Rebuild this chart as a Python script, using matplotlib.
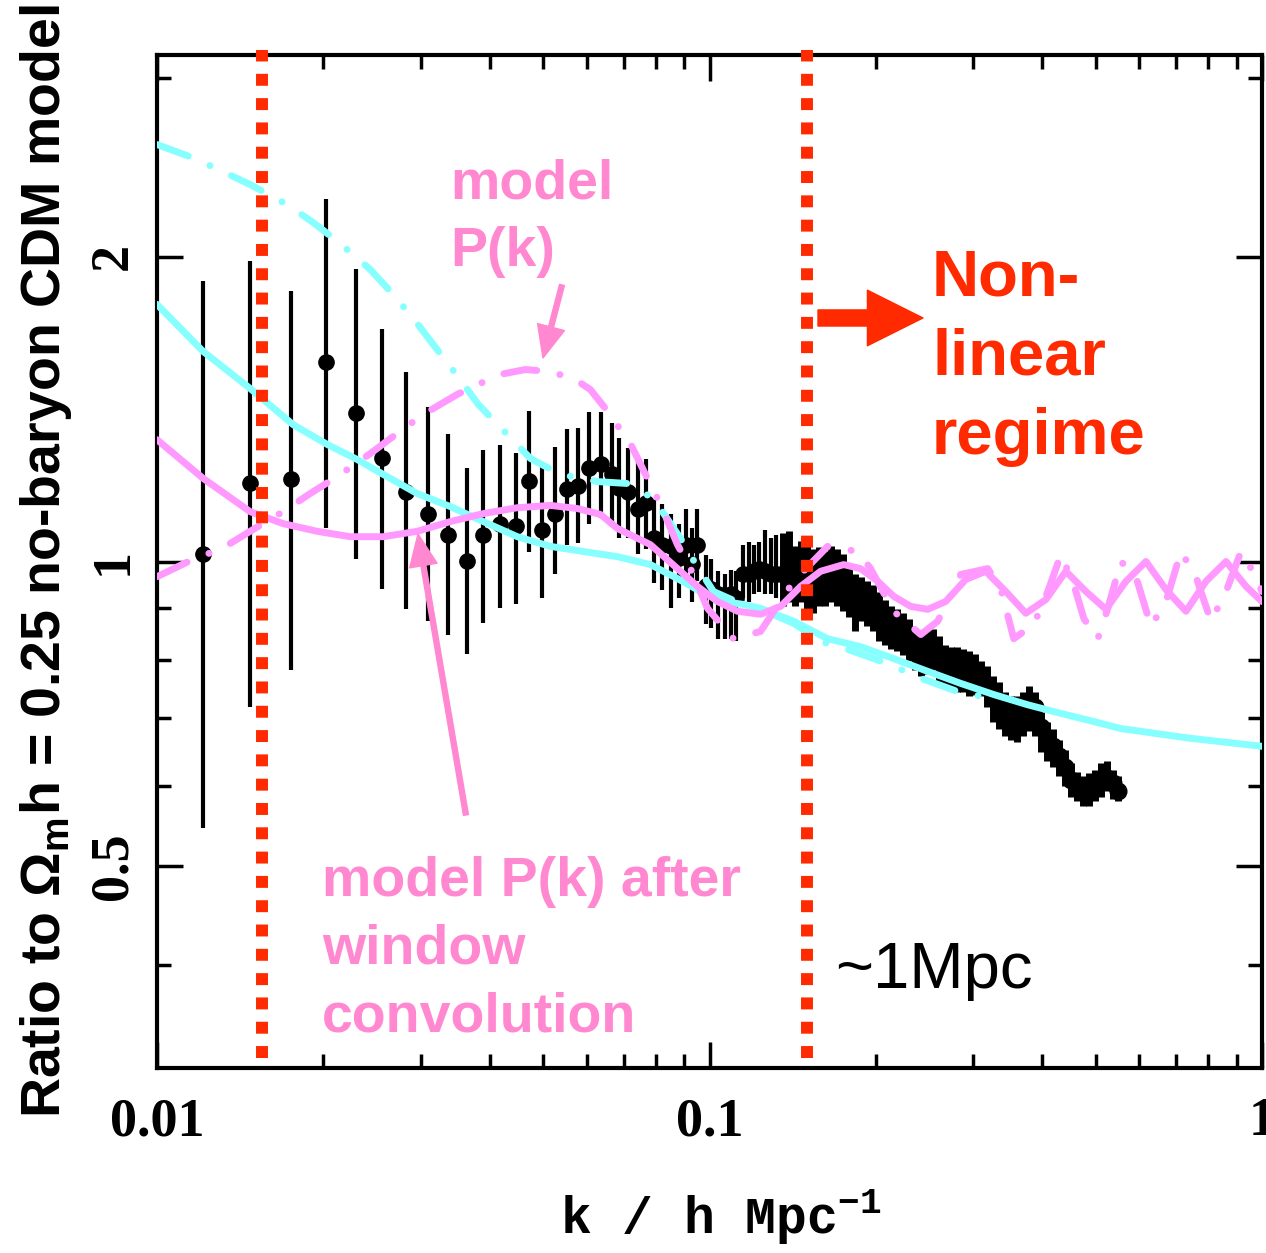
import matplotlib
matplotlib.use("Agg")
import matplotlib.pyplot as plt
from matplotlib.ticker import FixedLocator, FixedFormatter, NullFormatter

plt.rcParams['font.family'] = ['Liberation Sans', 'DejaVu Sans']
plt.rcParams['mathtext.fontset'] = 'custom'
plt.rcParams['mathtext.rm'] = 'Liberation Serif:bold'
plt.rcParams['mathtext.sf'] = 'Liberation Sans:bold'
plt.rcParams['mathtext.tt'] = 'Liberation Mono:bold'
plt.rcParams['lines.scale_dashes'] = False

RED = '#ff2a00'
PINK_LINE = '#ff99ff'
PINK_TEXT = '#ff88d0'
CYAN = '#88ffff'

# measured power spectrum ratio, sparse part (k < 0.135)
k_low = [0.01212, 0.01474, 0.01749, 0.02024, 0.02294, 0.02556, 0.02826, 0.03097, 0.03367,
         0.03644, 0.03896, 0.04182, 0.0447, 0.0472, 0.04983, 0.0526, 0.0553, 0.0579, 0.0606,
         0.0635, 0.0665, 0.0687, 0.0713, 0.0741, 0.0769, 0.0795, 0.0822, 0.0850, 0.0879,
         0.0905, 0.0928, 0.0951, 0.0984, 0.1008, 0.1038, 0.1065, 0.1092, 0.1119, 0.1148,
         0.1177, 0.1202, 0.1227, 0.1258, 0.1290, 0.1322]
ratio_low = [1.018, 1.194, 1.205, 1.572, 1.400, 1.264, 1.170, 1.115, 1.063, 1.002, 1.061, 1.090,
             1.083, 1.202, 1.075, 1.115, 1.180, 1.186, 1.238, 1.249, 1.221, 1.183, 1.172, 1.128,
             1.141, 1.054, 1.039, 1.035, 1.007, 1.039, 0.995, 1.039, 0.945, 0.940, 0.928, 0.920,
             0.928, 0.920, 0.973, 0.971, 0.978, 0.984, 0.978, 0.973, 0.971]
hi_low = [1.894, 1.982, 1.851, 2.282, 1.946, 1.698, 1.537, 1.422, 1.335, 1.238, 1.287, 1.302,
          1.281, 1.409, 1.252, 1.296, 1.350, 1.356, 1.406, 1.406, 1.371, 1.323, 1.293, 1.255,
          1.261, 1.151, 1.139, 1.113, 1.088, 1.128, 1.078, 1.128, 1.016, 1.005, 0.978, 0.973,
          0.980, 0.978, 1.039, 1.046, 1.039, 1.046, 1.075, 1.054, 1.063]
lo_low = [0.546, 0.718, 0.782, 1.078, 1.005, 0.940, 0.897, 0.873, 0.847, 0.811, 0.869, 0.899,
          0.907, 1.021, 0.920, 0.971, 1.039, 1.042, 1.090, 1.103, 1.088, 1.056, 1.054, 1.018,
          1.028, 0.953, 0.938, 0.899, 0.920, 0.962, 0.913, 0.956, 0.867, 0.859, 0.839, 0.839,
          0.839, 0.834, 0.920, 0.913, 0.928, 0.934, 0.928, 0.928, 0.920]

# dense part (k > 0.135)
k_high = [0.1356, 0.1391, 0.1426, 0.1462, 0.1499, 0.1537, 0.1576, 0.1616, 0.1657, 0.1699,
          0.1741, 0.1786, 0.1831, 0.1877, 0.1925, 0.1974, 0.2024, 0.2075, 0.2128, 0.2182,
          0.2237, 0.2294, 0.2352, 0.2412, 0.2473, 0.2535, 0.2599, 0.2665, 0.2733, 0.2802,
          0.2873, 0.2946, 0.3020, 0.3097, 0.3175, 0.3256, 0.3338, 0.3423, 0.3510, 0.3599,
          0.3690, 0.3784, 0.3880, 0.3978, 0.4079, 0.4183, 0.4288, 0.4397, 0.4508, 0.4623,
          0.4740, 0.4860, 0.4984, 0.5110, 0.5240, 0.5373, 0.5485]
ratio_high = [0.973, 0.982, 0.966, 0.978, 0.966, 0.956, 0.964, 0.960, 0.973, 0.966, 0.960, 0.934,
              0.924, 0.917, 0.913, 0.903, 0.889, 0.873, 0.863, 0.863, 0.857, 0.834, 0.819, 0.811,
              0.819, 0.819, 0.806, 0.797, 0.788, 0.788, 0.782, 0.779, 0.775, 0.765, 0.753, 0.736,
              0.724, 0.711, 0.708, 0.708, 0.714, 0.727, 0.719, 0.687, 0.667, 0.657, 0.642, 0.627,
              0.609, 0.600, 0.593, 0.596, 0.601, 0.609, 0.612, 0.604, 0.593]
hi_high = [1.066, 1.071, 1.035, 1.047, 1.035, 1.028, 1.033, 1.023, 1.035, 1.028, 1.018, 0.989,
           0.973, 0.966, 0.956, 0.949, 0.934, 0.917, 0.903, 0.897, 0.889, 0.877, 0.853, 0.849,
           0.857, 0.857, 0.844, 0.828, 0.824, 0.824, 0.819, 0.815, 0.811, 0.797, 0.788, 0.770,
           0.761, 0.744, 0.736, 0.736, 0.744, 0.753, 0.744, 0.711, 0.695, 0.683, 0.667, 0.652,
           0.632, 0.620, 0.614, 0.618, 0.623, 0.632, 0.635, 0.623, 0.614]
lo_high = [0.903, 0.913, 0.903, 0.913, 0.893, 0.889, 0.903, 0.903, 0.913, 0.903, 0.893, 0.882,
           0.853, 0.873, 0.863, 0.853, 0.834, 0.828, 0.819, 0.815, 0.809, 0.797, 0.782, 0.770,
           0.775, 0.782, 0.761, 0.756, 0.748, 0.744, 0.744, 0.736, 0.739, 0.736, 0.719, 0.695,
           0.683, 0.672, 0.667, 0.664, 0.672, 0.680, 0.672, 0.649, 0.635, 0.627, 0.614, 0.600,
           0.586, 0.580, 0.573, 0.573, 0.580, 0.586, 0.593, 0.583, 0.580]

# cyan: smooth model (solid) and wiggly model (dash-dot)
k_cyan = [0.01, 0.01212, 0.01474, 0.01763, 0.02032, 0.02303, 0.02567, 0.02958, 0.03395, 0.03896,
          0.04489, 0.05152, 0.05912, 0.06813, 0.07818, 0.0875, 0.09632, 0.1060, 0.1153, 0.1237,
          0.1420, 0.1636, 0.1877, 0.2154, 0.2483, 0.2849, 0.3270, 0.3768, 0.4325, 0.4963,
          0.5555, 0.7435, 1.0]
ratio_cyan = [1.794, 1.612, 1.482, 1.365, 1.305, 1.261, 1.219, 1.167, 1.133, 1.095, 1.058, 1.035,
              1.023, 1.011, 0.993, 0.962, 0.934, 0.913, 0.907, 0.899, 0.873, 0.839, 0.824, 0.802,
              0.779, 0.758, 0.739, 0.722, 0.708, 0.695, 0.684, 0.669, 0.657]
k_cyan_dd = [0.01, 0.01172, 0.01474, 0.0172, 0.01917, 0.02146, 0.02432, 0.02666, 0.02909, 0.03256,
             0.03539, 0.03815, 0.04306, 0.0474, 0.05372, 0.06294, 0.07103, 0.07917, 0.08862,
             0.09433, 0.1017, 0.1138, 0.1237, 0.1420, 0.1589, 0.1778, 0.2101, 0.2412, 0.2814, 0.3270]
ratio_cyan_dd = [2.580, 2.499, 2.356, 2.251, 2.161, 2.060, 1.942, 1.839, 1.738, 1.604, 1.512, 1.429,
                 1.335, 1.264, 1.219, 1.199, 1.194, 1.154, 1.054, 0.995, 0.934, 0.909, 0.897, 0.869,
                 0.834, 0.819, 0.793, 0.767, 0.744, 0.732]

# pink: model P(k) after window convolution (solid) and raw model P(k) (dash-dot)
k_pink = [0.01, 0.01212, 0.01474, 0.01691, 0.0195, 0.02237, 0.02567, 0.02958, 0.03395, 0.03896,
          0.04489, 0.05152, 0.05766, 0.06346, 0.06813, 0.07818, 0.0875, 0.0951, 0.1034, 0.1124,
          0.1237, 0.1345, 0.1462, 0.1589, 0.1749, 0.1877, 0.2016, 0.2154, 0.2313, 0.2483,
          0.2676, 0.2909, 0.3162, 0.3438, 0.3737, 0.4062, 0.4416, 0.4801, 0.5218, 0.5672,
          0.6166, 0.6702, 0.7285, 0.7919, 0.8608, 0.9355, 1.0]
ratio_pink = [1.319, 1.208, 1.120, 1.090, 1.071, 1.058, 1.058, 1.071, 1.095, 1.115, 1.130, 1.136,
              1.128, 1.113, 1.078, 1.039, 0.984, 0.945, 0.913, 0.893, 0.887, 0.903, 0.945, 0.978,
              0.993, 0.984, 0.956, 0.924, 0.903, 0.897, 0.913, 0.960, 0.978, 0.934, 0.889, 0.917,
              0.978, 0.934, 0.897, 0.956, 1.0, 0.938, 0.893, 0.956, 1.0, 0.945, 0.913]
k_pink_dd = [0.01, 0.01162, 0.01311, 0.01474, 0.01691, 0.01893, 0.02119, 0.02432, 0.02722, 0.03033,
             0.03495, 0.03847, 0.04182, 0.04642, 0.05152, 0.05718, 0.06087, 0.0648, 0.07193,
             0.07657, 0.08152, 0.0875, 0.09239, 0.09917, 0.1105, 0.1237, 0.1420, 0.1636, 0.1854,
             0.1957, 0.2154, 0.2412, 0.2588, 0.2699, 0.2849, 0.3189, 0.3367, 0.3554, 0.3864,
             0.4096, 0.4325, 0.4564, 0.4761, 0.5045, 0.5260, 0.5555, 0.5913, 0.6295, 0.6702,
             0.7134, 0.7594, 0.8085, 0.8608, 0.9162, 0.9753, 1.0]
ratio_pink_dd = [0.966, 1.005, 1.030, 1.071, 1.120, 1.167, 1.213, 1.278, 1.338, 1.397, 1.462, 1.499,
                 1.530, 1.547, 1.540, 1.512, 1.478, 1.416, 1.307, 1.219, 1.138, 1.039, 0.984, 0.899,
                 0.839, 0.853, 0.956, 1.035, 1.023, 0.984, 0.893, 0.847, 0.873, 0.913, 0.971, 0.984,
                 0.940, 0.839, 0.867, 0.934, 1.016, 0.949, 0.878, 0.839, 0.899, 1.0, 0.966, 0.863,
                 0.913, 1.023, 0.966, 0.873, 0.934, 1.023, 0.966, 0.934]

k_fit_min = 0.0155
k_nonlinear = 0.15

fig = plt.figure(figsize=(12.66, 12.53), dpi=100)
ax = fig.add_axes([157 / 1266, 1 - 1068 / 1253, 1105 / 1266, 1013 / 1253])
ax.set_xscale('log')
ax.set_yscale('log')
ax.set_xlim(0.01, 1)
ax.set_ylim(10 ** -0.5, 10 ** 0.5)

# data points: sparse bins, then the dense bins that merge into a band
err_low = [[a - b for a, b in zip(ratio_low, lo_low)], [b - a for a, b in zip(ratio_low, hi_low)]]
ax.errorbar(k_low, ratio_low, yerr=err_low, fmt='o', color='black', ms=11, elinewidth=3.0,
            capsize=0, zorder=2)
err_high = [[a - b for a, b in zip(ratio_high, lo_high)], [b - a for a, b in zip(ratio_high, hi_high)]]
ax.errorbar(k_high, ratio_high, yerr=err_high, fmt='o', color='black', ms=12, elinewidth=5.0,
            capsize=0, zorder=2)

dashdot = (0, (24, 17, 0.1, 17))
ax.plot(k_cyan, ratio_cyan, color=CYAN, lw=5, solid_capstyle='round', zorder=3)
ax.plot(k_cyan_dd, ratio_cyan_dd, color=CYAN, lw=5, ls=dashdot, dash_capstyle='round', zorder=3)
ax.plot(k_pink, ratio_pink, color=PINK_LINE, lw=5, solid_capstyle='round', zorder=3)
ax.plot(k_pink_dd, ratio_pink_dd, color=PINK_LINE, lw=5, ls=dashdot, dash_capstyle='round', zorder=3)

for kv in [k_fit_min, k_nonlinear]:
    ax.axvline(kv, ymin=0.01, ymax=1.005, color=RED, lw=8.6, ls=(0, (8.6, 8.9)),
               clip_on=False, zorder=5)

# axes and ticks
for s in ax.spines.values():
    s.set_linewidth(3)
ax.xaxis.set_major_locator(FixedLocator([0.01, 0.1, 1]))
ax.xaxis.set_major_formatter(FixedFormatter(['0.01', '0.1', '1']))
ax.xaxis.set_minor_locator(FixedLocator([m * d for d in [0.01, 0.1] for m in range(2, 10)]))
ax.xaxis.set_minor_formatter(NullFormatter())
ax.yaxis.set_major_locator(FixedLocator([0.5, 1, 2]))
ax.yaxis.set_major_formatter(FixedFormatter(['0.5', '1', '2']))
ax.yaxis.set_minor_locator(FixedLocator([0.4, 0.6, 0.7, 0.8, 0.9, 3]))
ax.yaxis.set_minor_formatter(NullFormatter())
ax.tick_params(which='both', direction='in', top=True, right=True, width=2.5)
ax.tick_params(which='major', length=19)
ax.tick_params(which='minor', length=10)
ax.tick_params(axis='x', pad=21)
ax.tick_params(axis='y', pad=13)
for lab in ax.get_xticklabels() + ax.get_yticklabels():
    lab.set_fontfamily('Liberation Serif')
    lab.set_fontweight('bold')
    lab.set_fontsize(39)
for lab in ax.get_yticklabels():
    lab.set_rotation(90)
    lab.set_va('center')

ax.set_xlabel('k / h Mpc$^{\\mathtt{-1}}$', fontfamily='Liberation Mono', fontweight='bold',
              fontsize=37, va='top')
ax.xaxis.set_label_coords(0.51, -0.119)
ax.set_ylabel('Ratio to \u03a9$_\\mathsf{m}$h = 0.25 no-baryon CDM model', fontsize=40,
              fontweight='bold')
ax.yaxis.set_label_coords(-0.075, 0.5)

# annotations
ax.text(0.2652, 0.8983, 'model\nP(k)', transform=ax.transAxes, color=PINK_TEXT, fontsize=40,
        fontweight='bold', ha='left', va='top', linespacing=1.39)
ax.text(0.1493, 0.2093, 'model P(k) after\nwindow\nconvolution', transform=ax.transAxes,
        color=PINK_TEXT, fontsize=40, fontweight='bold', ha='left', va='top', linespacing=1.39)
ax.text(0.7014, 0.8085, 'Non-\nlinear\nregime', transform=ax.transAxes, color=RED, fontsize=47,
        fontweight='bold', ha='left', va='top', linespacing=1.4)
ax.text(0.6136, 0.1254, '~1Mpc', transform=ax.transAxes, color='black', fontsize=47,
        ha='left', va='top')

ax.annotate('', xy=(0.3493, 0.7009), xytext=(0.3665, 0.7730), xycoords='axes fraction',
            arrowprops=dict(arrowstyle='simple,head_length=1.15,head_width=1.0,tail_width=0.18',
                            color=PINK_TEXT, shrinkA=0, shrinkB=0, mutation_scale=20))
ax.annotate('', xy=(0.2362, 0.5271), xytext=(0.2796, 0.2498), xycoords='axes fraction',
            arrowprops=dict(arrowstyle='simple,head_length=1.15,head_width=1.0,tail_width=0.18',
                            color=PINK_TEXT, shrinkA=0, shrinkB=0, mutation_scale=20))
ax.annotate('', xy=(0.6932, 0.7404), xytext=(0.5982, 0.7404), xycoords='axes fraction',
            arrowprops=dict(arrowstyle='simple,head_length=1.0,head_width=1.0,tail_width=0.29',
                            color=RED, shrinkA=0, shrinkB=0, mutation_scale=40))

fig.savefig('out.png', dpi=100)
